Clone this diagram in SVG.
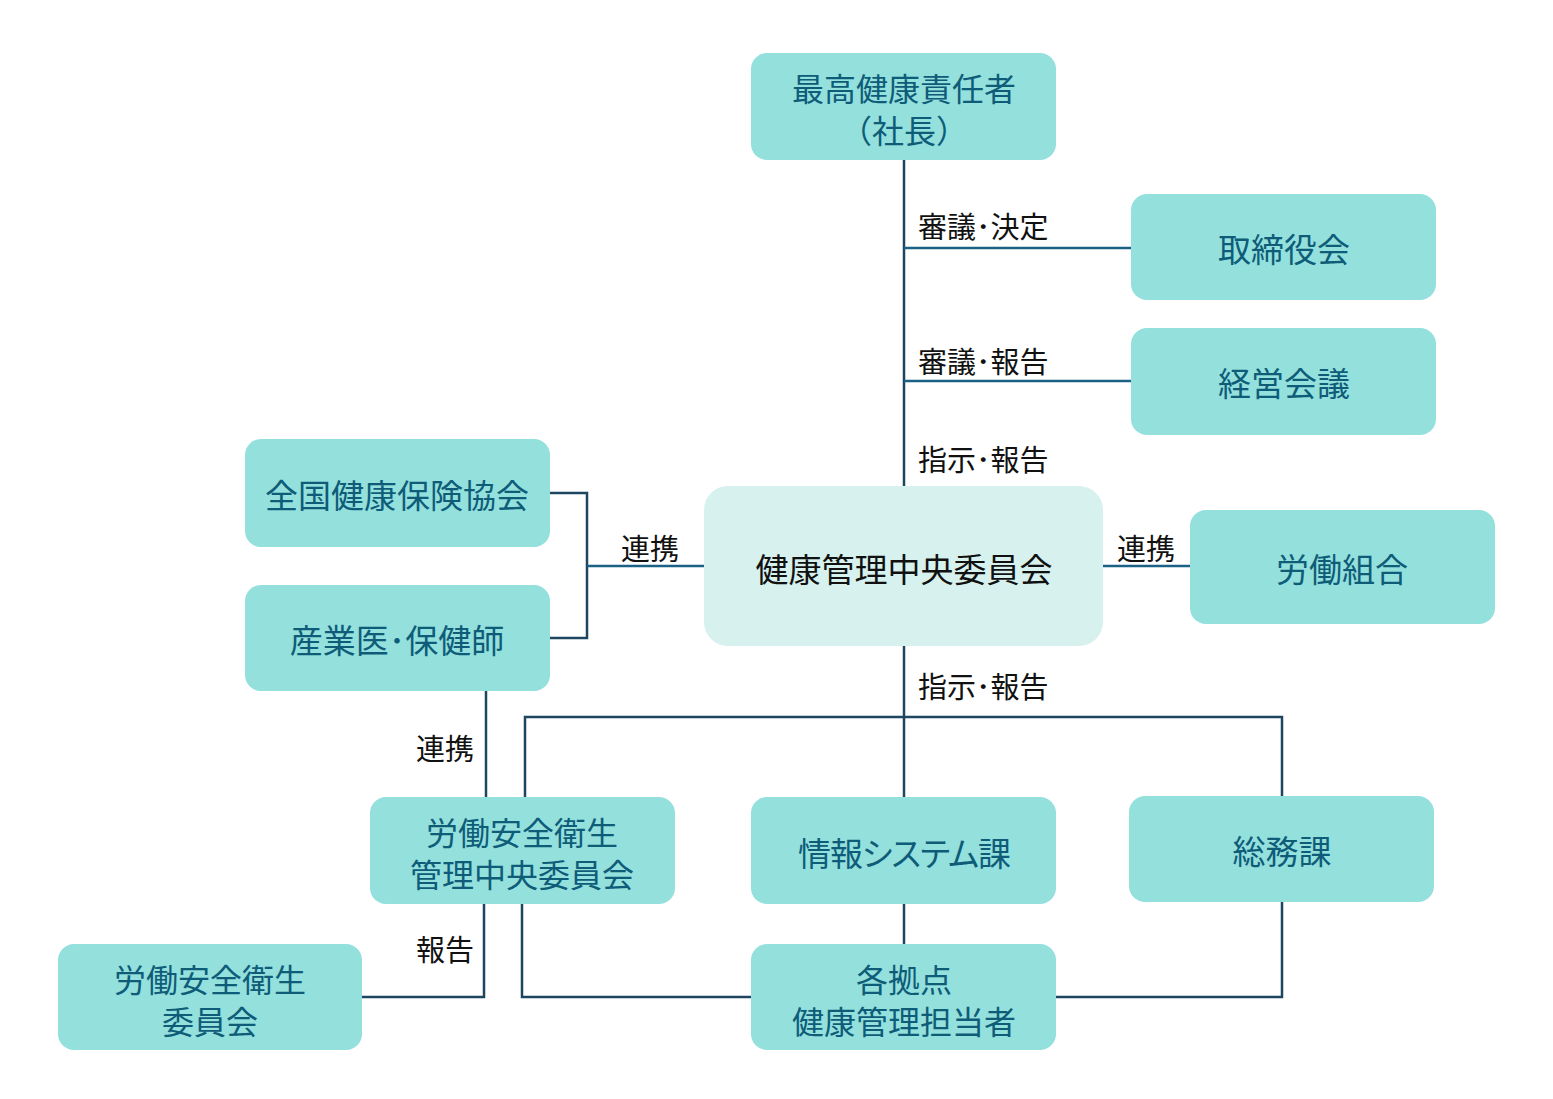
<svg xmlns="http://www.w3.org/2000/svg" width="1553" height="1099" viewBox="0 0 1553 1099">
<style>
.n{fill:#93E0DD}
.c{fill:#D7F1EE}
.t{font-family:"Noto Sans CJK JP","Noto Sans",sans-serif;font-size:33px;fill:#0E5C78;text-anchor:middle;dominant-baseline:central}
.s{font-size:32px}
.p{font-feature-settings:"palt";letter-spacing:-1px}
.tc{fill:#111}
.l{font-family:"Noto Sans CJK JP","Noto Sans",sans-serif;font-size:29px;fill:#111}
.k{fill:none;stroke:#1F4660;stroke-width:2.5}
.b{fill:none;stroke:#1B6185;stroke-width:2.5}
</style>
<g id="connectors">
<path class="k" d="M904 160V486"/>
<path class="b" d="M904 248H1131"/>
<path class="b" d="M904 381H1131"/>
<path class="k" d="M550 493H587V638H550"/>
<path class="b" d="M587 566H704"/>
<path class="b" d="M1103 566H1190"/>
<path class="k" d="M904 646V797"/>
<path class="k" d="M525 797V717H1282V796"/>
<path class="k" d="M486 691V797"/>
<path class="k" d="M484 904V997H362"/>
<path class="k" d="M522 904V997H751"/>
<path class="k" d="M904 904V944"/>
<path class="k" d="M1056 997H1282V902"/>
<text class="l" x="918" y="238">審議･決定</text>
<text class="l" x="918" y="373">審議･報告</text>
<text class="l" x="918" y="471">指示･報告</text>
<text class="l" x="918" y="698">指示･報告</text>
<text class="l" x="650" y="560" text-anchor="middle">連携</text>
<text class="l" x="1146" y="560" text-anchor="middle">連携</text>
<text class="l" x="474" y="760" text-anchor="end">連携</text>
<text class="l" x="474" y="961" text-anchor="end">報告</text>
</g>
<g id="ceo"><rect class="n" x="751" y="53" width="305" height="107" rx="16"/><text class="t s" x="904" y="87">最高健康責任者</text><text class="t s" x="904" y="129">（社長）</text></g>
<g id="board"><rect class="n" x="1131" y="194" width="305" height="106" rx="16"/><text class="t" x="1284" y="248">取締役会</text></g>
<g id="mgmt"><rect class="n" x="1131" y="328" width="305" height="107" rx="16"/><text class="t" x="1284" y="382">経営会議</text></g>
<g id="center"><rect class="c" x="704" y="486" width="399" height="160" rx="24"/><text class="t tc" x="904" y="568">健康管理中央委員会</text></g>
<g id="kyokai"><rect class="n" x="245" y="439" width="305" height="108" rx="16"/><text class="t" x="397" y="494">全国健康保険協会</text></g>
<g id="doctor"><rect class="n" x="245" y="585" width="305" height="106" rx="16"/><text class="t" x="397" y="639">産業医･保健師</text></g>
<g id="union"><rect class="n" x="1190" y="510" width="305" height="114" rx="16"/><text class="t" x="1342" y="568">労働組合</text></g>
<g id="safetycentral"><rect class="n" x="370" y="797" width="305" height="107" rx="16"/><text class="t s" x="522" y="831">労働安全衛生</text><text class="t s" x="522" y="873">管理中央委員会</text></g>
<g id="infosys"><rect class="n" x="751" y="797" width="305" height="107" rx="16"/><text class="t p" x="904" y="852">情報システム課</text></g>
<g id="general"><rect class="n" x="1129" y="796" width="305" height="106" rx="16"/><text class="t" x="1282" y="850">総務課</text></g>
<g id="safety"><rect class="n" x="58" y="944" width="304" height="106" rx="16"/><text class="t s" x="210" y="978">労働安全衛生</text><text class="t s" x="210" y="1020">委員会</text></g>
<g id="sites"><rect class="n" x="751" y="944" width="305" height="106" rx="16"/><text class="t s" x="904" y="978">各拠点</text><text class="t s" x="904" y="1020">健康管理担当者</text></g>
</svg>
